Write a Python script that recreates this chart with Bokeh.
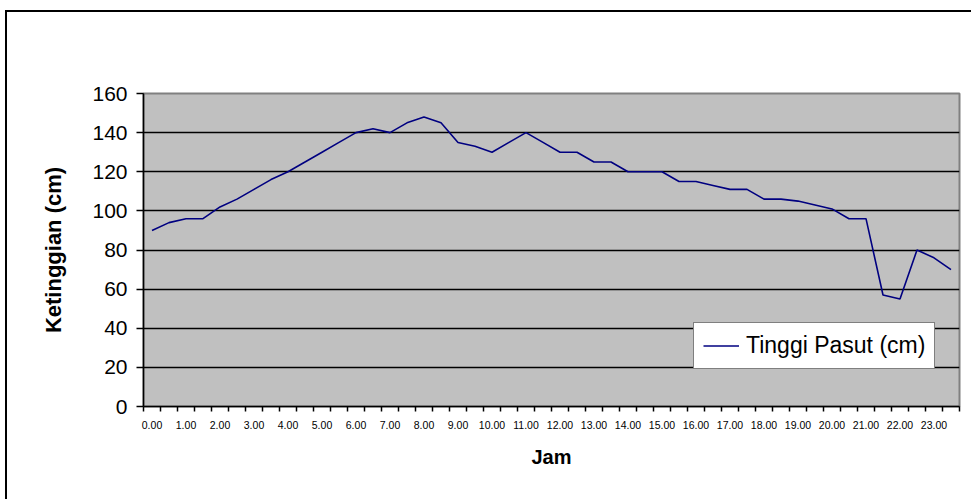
from bokeh.plotting import figure
from bokeh.models import FixedTicker, Range1d, Legend, LegendItem, ColumnDataSource
from bokeh.embed import file_html
from bokeh.resources import INLINE

# Hour labels shown on the x axis (every other half-hour slot)
jam_labels = ["0.00", "1.00", "2.00", "3.00", "4.00", "5.00", "6.00", "7.00",
              "8.00", "9.00", "10.00", "11.00", "12.00", "13.00", "14.00", "15.00",
              "16.00", "17.00", "18.00", "19.00", "20.00", "21.00", "22.00", "23.00"]

# Tide height (cm) every half hour, 0.00 .. 23.30
tinggi_pasut = [90, 94, 96, 96, 102, 106, 111, 116, 120, 125, 130, 135,
                140, 142, 140, 145, 148, 145, 135, 133, 130, 135, 140, 135,
                130, 130, 125, 125, 120, 120, 120, 115, 115, 113, 111, 111,
                106, 106, 105, 103, 101, 96, 96, 57, 55, 80, 76, 70]

y_ticks = [0, 20, 40, 60, 80, 100, 120, 140, 160]

n = len(tinggi_pasut)
xs = [i + 0.5 for i in range(n)]
src = ColumnDataSource(dict(x=xs, y=tinggi_pasut))

FONT = "Liberation Sans"

p = figure(width=966, height=489, output_backend="svg", toolbar_location=None,
           x_range=Range1d(0, n), y_range=Range1d(0, 160),
           min_border_left=136, min_border_right=14, min_border_top=81,
           min_border_bottom=95)
p.styles = {"border-top": "2px solid black", "border-left": "2px solid black",
            "margin-left": "5px", "margin-top": "10px"}

p.background_fill_color = "#C0C0C0"
p.border_fill_color = "white"
p.outline_line_color = "#808080"
p.outline_line_width = 2

r = p.line("x", "y", source=src, line_color="#000080", line_width=1.6)

# x axis: boundary ticks as minor ticks, labels at centres of even slots
label_pos = [2 * k + 0.5 for k in range(len(jam_labels))]
p.xaxis.ticker = FixedTicker(ticks=label_pos, minor_ticks=list(range(n + 1)))
p.xaxis.major_label_overrides = {pos: lab for pos, lab in zip(label_pos, jam_labels)}
p.xaxis.major_tick_in = 0
p.xaxis.major_tick_out = 0
p.xaxis.minor_tick_in = 0
p.xaxis.minor_tick_out = 5
p.xaxis.minor_tick_line_color = "black"
p.xaxis.minor_tick_line_width = 1.5
p.xaxis.axis_line_color = "black"
p.xaxis.axis_line_width = 1.5
p.xaxis.major_label_text_font = FONT
p.xaxis.major_label_text_font_size = "10.5px"
p.xaxis.major_label_text_color = "black"
p.xaxis.major_label_standoff = 9
p.xaxis.axis_label = "Jam"
p.xaxis.axis_label_text_font = FONT
p.xaxis.axis_label_text_font_style = "bold"
p.xaxis.axis_label_text_font_size = "20px"
p.xaxis.axis_label_text_color = "black"
p.xaxis.axis_label_standoff = 14

p.yaxis.ticker = FixedTicker(ticks=y_ticks, minor_ticks=[])
p.yaxis.major_tick_in = 0
p.yaxis.major_tick_out = 7
p.yaxis.major_tick_line_color = "black"
p.yaxis.major_tick_line_width = 1.5
p.yaxis.axis_line_color = "black"
p.yaxis.axis_line_width = 1.5
p.yaxis.major_label_text_font = FONT
p.yaxis.major_label_text_font_size = "21px"
p.yaxis.major_label_text_color = "black"
p.yaxis.major_label_standoff = 9
p.yaxis.axis_label = "Ketinggian (cm)"
p.yaxis.axis_label_text_font = FONT
p.yaxis.axis_label_text_font_style = "bold"
p.yaxis.axis_label_text_font_size = "22px"
p.yaxis.axis_label_text_color = "black"
p.yaxis.axis_label_standoff = 23

p.xgrid.grid_line_color = None
p.ygrid.ticker = FixedTicker(ticks=[t for t in y_ticks if 0 < t < 160])
p.ygrid.grid_line_color = "black"
p.ygrid.grid_line_width = 1.5

legend = Legend(items=[LegendItem(label="Tinggi Pasut (cm)", renderers=[r])],
                location=(550, 37))
legend.border_line_color = "black"
legend.border_line_width = 1
legend.background_fill_color = "white"
legend.background_fill_alpha = 1
legend.label_text_font = FONT
legend.label_text_font_size = "23px"
legend.label_text_color = "black"
legend.glyph_width = 36
legend.glyph_height = 25
legend.label_height = 25
legend.label_standoff = 7
legend.padding = 9
legend.margin = 0
p.add_layout(legend)

open("out.html", "w").write(file_html(p, INLINE))
